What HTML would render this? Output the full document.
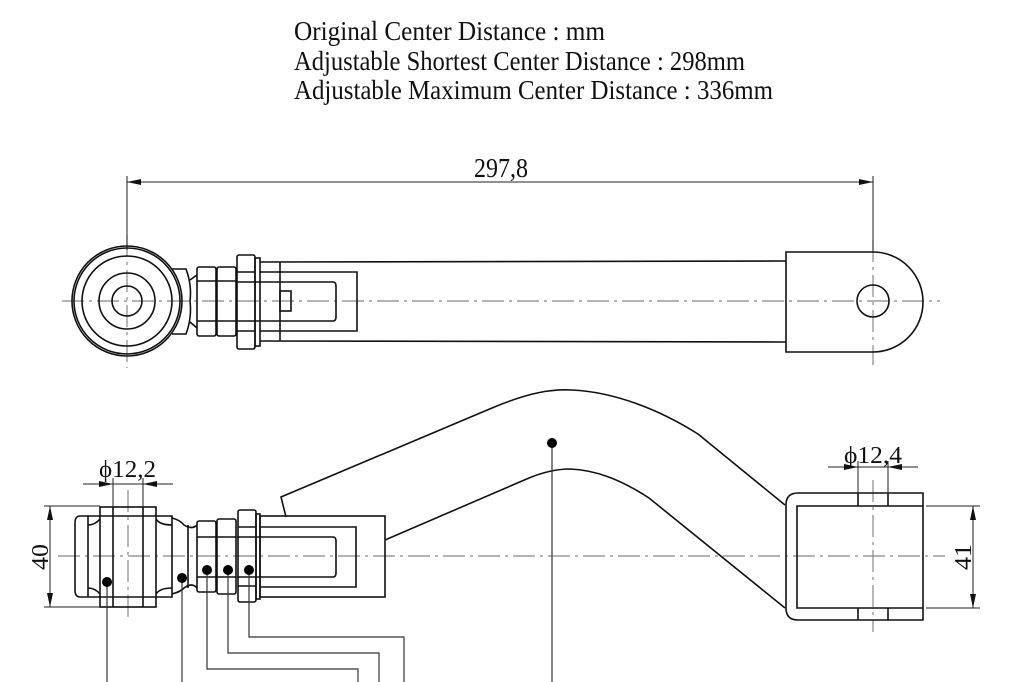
<!DOCTYPE html>
<html><head><meta charset="utf-8"><style>
html,body{margin:0;padding:0;background:#fff;width:1024px;height:682px;overflow:hidden}
svg{display:block}
text{font-family:"Liberation Serif",serif;fill:#111}
</style></head><body>
<svg width="1024" height="682" viewBox="0 0 1024 682" xmlns="http://www.w3.org/2000/svg">
<g font-size="27">
<text x="294" y="40" textLength="311" lengthAdjust="spacingAndGlyphs">Original  Center Distance : mm</text>
<text x="294" y="70" textLength="451" lengthAdjust="spacingAndGlyphs">Adjustable Shortest Center Distance : 298mm</text>
<text x="294" y="99" textLength="479" lengthAdjust="spacingAndGlyphs">Adjustable Maximum  Center Distance : 336mm</text>
<text x="474" y="177" textLength="54" lengthAdjust="spacingAndGlyphs">297,8</text>
</g>
<g stroke="#888" stroke-width="1.2" fill="none" stroke-dasharray="22,5,3,5">
<line x1="62" y1="301" x2="940" y2="301"/>
<line x1="127" y1="235" x2="127" y2="368"/>
<line x1="873" y1="240" x2="873" y2="365"/>
<line x1="58" y1="556" x2="945" y2="556"/>
<line x1="128" y1="490" x2="128" y2="620"/>
<line x1="873" y1="480" x2="873" y2="632"/>
</g>
<g stroke="#222" stroke-width="1" fill="none">
<line x1="127" y1="182" x2="873" y2="182"/>
<line x1="127" y1="176" x2="127" y2="250"/>
<line x1="873" y1="176" x2="873" y2="252"/>
</g>
<polygon points="127,182 141,179 141,185" fill="#111"/>
<polygon points="873,182 859,179 859,185" fill="#111"/>
<g stroke="#111" stroke-width="1.6" fill="none">
<circle cx="127" cy="301" r="55"/>
<circle cx="127" cy="301" r="53"/>
<circle cx="127" cy="301" r="45"/>
<circle cx="127" cy="301" r="28"/>
<circle cx="127" cy="301" r="15"/>
<path d="M172,269 L186,269 Q192,285 190,301 Q192,318 186,334 L172,334"/>
<path d="M190,280 L197,275 M190,322 L197,328"/>
<rect x="197" y="267" width="19" height="69" rx="2"/>
<rect x="217" y="267" width="19" height="69" rx="2"/>
<line x1="197" y1="281" x2="236" y2="281"/>
<line x1="197" y1="321" x2="236" y2="321"/>
<rect x="237" y="255" width="18" height="94" rx="2"/>
<line x1="237" y1="272" x2="255" y2="272"/>
<line x1="237" y1="331" x2="255" y2="331"/>
<rect x="255" y="258" width="5" height="88"/>
<path d="M260,262 L786,261 M260,341 L786,342"/>
<line x1="280" y1="262" x2="280" y2="341"/>
<path d="M260,272 L357,272 L357,331 L260,331"/>
<path d="M237,282 L333,282 Q336,282 336,286 L336,317 Q336,321 333,321 L237,321"/>
<rect x="280" y="291" width="11" height="20"/>
<path d="M786,252 L873,252 A50,50 0 0 1 873,352 L786,352 Z"/>
<circle cx="873" cy="301" r="16"/>
</g>
<g stroke="#111" stroke-width="1.6" fill="none">
<path d="M80,516 L172,516 L172,597 L80,597 Q75,597 75,590 L75,523 Q75,516 80,516 Z"/>
<line x1="88" y1="516" x2="88" y2="597"/>
<rect x="100" y="507" width="56" height="100"/>
<line x1="113" y1="507" x2="113" y2="607"/>
<line x1="143" y1="507" x2="143" y2="607"/>
<path d="M88,525 Q95,525 100,519 M88,588 Q95,588 100,594 M156,519 Q160,525 172,525 M156,594 Q160,588 172,588"/>
<path d="M172,518 Q180,520 184,525 Q192,530 197,525 M172,594 Q180,592 184,588 Q192,582 197,588"/>
<line x1="188" y1="525" x2="188" y2="588"/>
<rect x="197" y="521" width="19" height="71" rx="2"/>
<rect x="217" y="519" width="19" height="75" rx="2"/>
<line x1="197" y1="537" x2="236" y2="537"/>
<line x1="197" y1="577" x2="236" y2="577"/>
<rect x="238" y="510" width="18" height="92" rx="2"/>
<line x1="238" y1="527" x2="256" y2="527"/>
<line x1="238" y1="586" x2="256" y2="586"/>
<rect x="256" y="514" width="4" height="85"/>
<rect x="260" y="516" width="125" height="81"/>
<path d="M260,527 L356,527 L356,587 L260,587"/>
<path d="M237,537 L333,537 Q336,537 336,541 L336,573 Q336,577 333,577 L237,577"/>
<path d="M286,517 L281,497 L492,408 C530,392 552,389 572,390 C615,392 660,410 698,434 L785,505"/>
<path d="M385,540 L529,478 C546,471 558,469 570,469 C595,470 620,479 649,498 L785,608"/>
<path d="M923,493 L798,493 Q786,493 786,505 L786,608 Q786,620 798,620 L923,620 Z"/>
<path d="M923,506 L797,506 L797,608 L923,608"/>
<line x1="858" y1="493" x2="858" y2="506"/>
<line x1="888" y1="493" x2="888" y2="506"/>
<line x1="858" y1="608" x2="858" y2="620"/>
<line x1="888" y1="608" x2="888" y2="620"/>
</g>
<g stroke="#222" stroke-width="1" fill="none">
<line x1="83" y1="484" x2="173" y2="484"/>
<line x1="113" y1="478" x2="113" y2="507"/>
<line x1="143" y1="478" x2="143" y2="507"/>
<line x1="44" y1="506" x2="100" y2="506"/>
<line x1="44" y1="607" x2="100" y2="607"/>
<line x1="50" y1="506" x2="50" y2="607"/>
<line x1="828" y1="467" x2="918" y2="467"/>
<line x1="858" y1="461" x2="858" y2="493"/>
<line x1="888" y1="461" x2="888" y2="493"/>
<line x1="926" y1="506" x2="980" y2="506"/>
<line x1="926" y1="608" x2="980" y2="608"/>
<line x1="973" y1="506" x2="973" y2="608"/>
</g>
<g fill="#111">
<polygon points="113,484 99,481 99,487"/><polygon points="143,484 157,481 157,487"/>
<polygon points="50,506 47,520 53,520"/><polygon points="50,607 47,593 53,593"/>
<polygon points="858,467 844,464 844,470"/><polygon points="888,467 902,464 902,470"/>
<polygon points="973,506 970,520 976,520"/><polygon points="973,608 970,594 976,594"/>
</g>
<g font-size="24">
<text x="99" y="477" textLength="57" lengthAdjust="spacingAndGlyphs">ϕ12,2</text>
<text x="844" y="463" textLength="58" lengthAdjust="spacingAndGlyphs">ϕ12,4</text>
<text transform="translate(48,570) rotate(-90)" textLength="26" lengthAdjust="spacingAndGlyphs">40</text>
<text transform="translate(971,570) rotate(-90)" textLength="26" lengthAdjust="spacingAndGlyphs">41</text>
</g>
<g stroke="#333" stroke-width="1.2" fill="none">
<line x1="107" y1="582" x2="107" y2="682"/>
<line x1="182" y1="578" x2="182" y2="682"/>
<path d="M207,570 L207,669 L358,669 L358,682"/>
<path d="M228,570 L228,653 L379,653 L379,682"/>
<path d="M249,570 L249,637 L404,637 L404,682"/>
<line x1="552" y1="443" x2="552" y2="682"/>
</g>
<g fill="#000">
<circle cx="107" cy="582" r="5"/><circle cx="182" cy="578" r="5"/>
<circle cx="207" cy="570" r="5"/><circle cx="228" cy="570" r="5"/><circle cx="249" cy="570" r="5"/>
<circle cx="552" cy="443" r="5"/>
</g>
</svg>
</body></html>
